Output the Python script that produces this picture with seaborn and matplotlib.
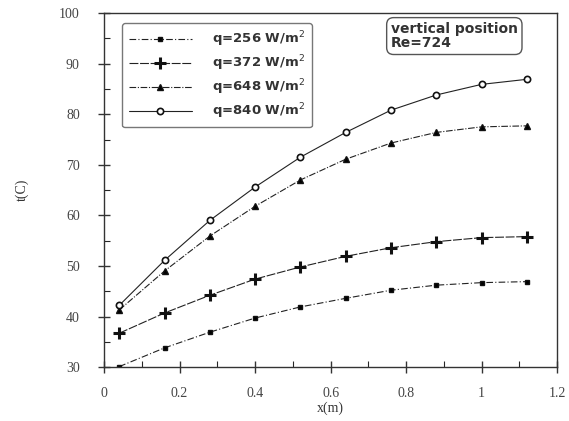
import matplotlib
matplotlib.use("Agg")
import matplotlib.pyplot as plt
from matplotlib.ticker import MultipleLocator
import seaborn as sns
import pandas as pd

# Axial positions (m) and wall temperatures (C) for each heat flux
x_m = [0.04, 0.16, 0.28, 0.40, 0.52, 0.64, 0.76, 0.88, 1.00, 1.12]
t_q256 = [30.1, 33.8, 36.9, 39.7, 41.9, 43.6, 45.2, 46.2, 46.7, 46.9]
t_q372 = [36.7, 40.7, 44.2, 47.4, 49.8, 51.9, 53.6, 54.8, 55.6, 55.8]
t_q648 = [41.3, 49.0, 55.9, 61.8, 67.0, 71.1, 74.3, 76.4, 77.5, 77.7]
t_q840 = [42.2, 51.1, 59.0, 65.6, 71.5, 76.4, 80.8, 83.8, 85.9, 86.9]
labels = ["q=256 W/m$^2$", "q=372 W/m$^2$", "q=648 W/m$^2$", "q=840 W/m$^2$"]
x_ticks = [0, 0.2, 0.4, 0.6, 0.8, 1, 1.2]
x_ticklabels = ["0", "0.2", "0.4", "0.6", "0.8", "1", "1.2"]
y_ticks = [30, 40, 50, 60, 70, 80, 90, 100]

sns.set_theme(style="ticks")
plt.rcParams["font.family"] = ["DejaVu Sans"]

fig = plt.figure(figsize=(5.69, 4.21), dpi=100)
ax = fig.add_axes([0.183, 0.128, 0.796, 0.841])

series = [t_q256, t_q372, t_q648, t_q840]
styles = [
    dict(marker="s", markersize=3.0, mew=1.0, linestyle=(0, (6, 2, 1, 2)), mfc="black"),
    dict(marker="+", markersize=8, mew=2.2, linestyle=(0, (8, 1.5)), mfc="black"),
    dict(marker="^", markersize=4.5, mew=1.0, linestyle=(0, (6, 1.5, 1, 1.5)), mfc="black"),
    dict(marker="o", markersize=4.5, mew=1.2, linestyle="-", mfc="white"),
]
for vals, lab, st in zip(series, labels, styles):
    df = pd.DataFrame({"x": x_m, "t": vals})
    sns.lineplot(data=df, x="x", y="t", ax=ax, color="#222222", lw=0.8,
                 marker=st["marker"], markersize=st["markersize"],
                 markerfacecolor=st["mfc"], markeredgecolor="#111111",
                 markeredgewidth=st["mew"], linestyle=st["linestyle"], label=lab)

ax.set_xlim(0, 1.2)
ax.set_ylim(30, 100)
ax.set_xticks(x_ticks)
ax.set_xticklabels(x_ticklabels)
ax.set_yticks(y_ticks)
ax.xaxis.set_minor_locator(MultipleLocator(0.1))
ax.yaxis.set_minor_locator(MultipleLocator(5))
ax.tick_params(axis="both", which="major", direction="inout", length=9, width=1,
               labelsize=10, colors="#333333")
ax.tick_params(axis="y", which="major", pad=13)
ax.tick_params(axis="x", which="major", pad=10)
ax.tick_params(axis="both", which="minor", direction="in", length=4, width=0.8)
for lab in ax.get_xticklabels() + ax.get_yticklabels():
    lab.set_fontfamily("Liberation Serif")
    lab.set_color("#444444")
for sp in ax.spines.values():
    sp.set_visible(True)
    sp.set_linewidth(1.0)
    sp.set_color("#333333")

ax.set_xlabel("x(m)", fontfamily="Liberation Serif", fontsize=10, labelpad=1, color="#333333")
ax.set_ylabel("t(C)", fontfamily="Liberation Serif", fontsize=10, labelpad=22, color="#333333")

leg = ax.legend(loc="upper left", bbox_to_anchor=(0.025, 0.99), frameon=True,
                fancybox=True, edgecolor="#555555", handlelength=4.8,
                labelspacing=0.32, borderpad=0.5, handletextpad=1.5,
                prop={"weight": "bold", "size": 9.5})
leg.get_frame().set_linewidth(1.0)
for t in leg.get_texts():
    t.set_color("#333333")

ax.text(0.633, 0.935, "vertical position\nRe=724", transform=ax.transAxes,
        ha="left", va="center", fontsize=10, fontweight="bold", color="#333333",
        linespacing=1.05,
        bbox=dict(boxstyle="round,pad=0.3,rounding_size=0.5", fc="white",
                  ec="#555555", lw=1.0))

fig.savefig("out.png", dpi=100)
